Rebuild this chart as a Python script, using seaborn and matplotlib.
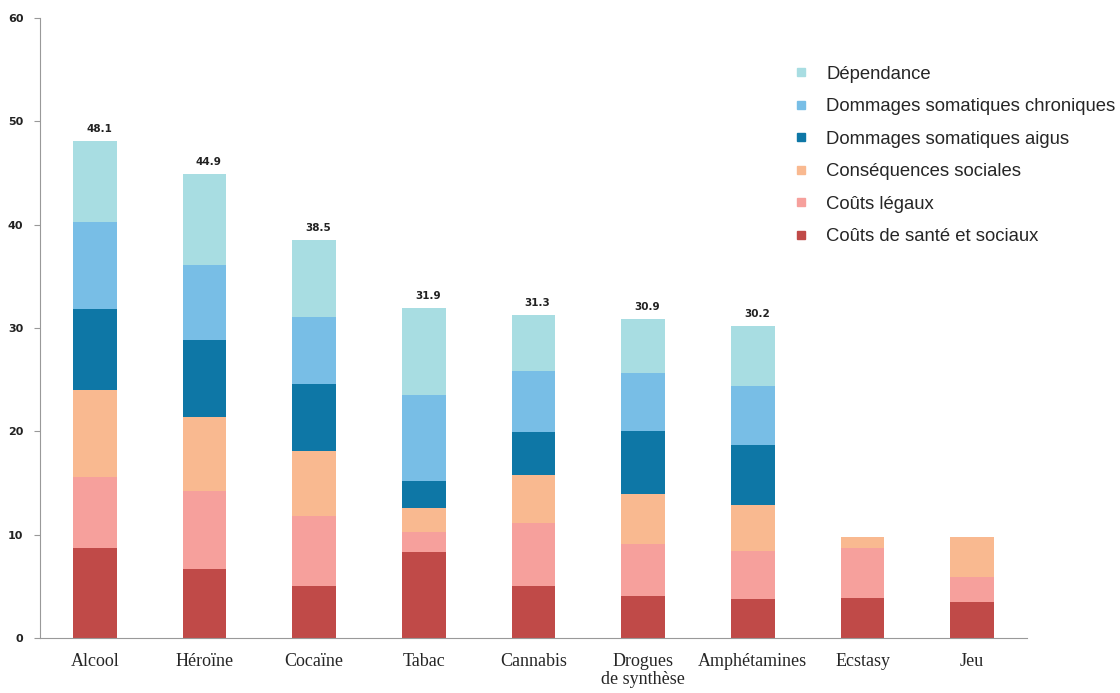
import matplotlib
matplotlib.use("Agg")
import matplotlib.pyplot as plt
import numpy as np
import pandas as pd
import seaborn as sns
from matplotlib.lines import Line2D

drugs = ["Alcool", "Héroïne", "Cocaïne", "Tabac", "Cannabis",
         "Drogues\nde synthèse", "Amphétamines", "Ecstasy", "Jeu"]

# stacked from bottom to top
couts_sante = [8.7, 6.7, 5.0, 8.3, 5.0, 4.1, 3.8, 3.85, 3.5]
couts_legaux = [6.9, 7.5, 6.8, 2.0, 6.1, 5.0, 4.6, 4.85, 2.4]
consequences = [8.4, 7.2, 6.3, 2.25, 4.7, 4.8, 4.5, 1.1, 3.9]
somatiques_aigus = [7.8, 7.4, 6.5, 2.65, 4.1, 6.1, 5.8, 0, 0]
somatiques_chron = [8.5, 7.3, 6.5, 8.3, 5.9, 5.6, 5.7, 0, 0]
dependance = [7.8, 8.8, 7.4, 8.4, 5.5, 5.3, 5.8, 0, 0]
totals = [48.1, 44.9, 38.5, 31.9, 31.3, 30.9, 30.2, None, None]

series = ["Coûts de santé et sociaux", "Coûts légaux", "Conséquences sociales",
          "Dommages somatiques aigus", "Dommages somatiques chroniques", "Dépendance"]
colors = ["#C04A48", "#F6A09C", "#F9B990", "#0E77A6", "#78BEE6", "#A8DDE2"]

df = pd.DataFrame({
    series[0]: couts_sante,
    series[1]: couts_legaux,
    series[2]: consequences,
    series[3]: somatiques_aigus,
    series[4]: somatiques_chron,
    series[5]: dependance,
}, index=drugs)
cum = df.cumsum(axis=1)

sns.set_style("white")
fig = plt.figure(figsize=(11.2, 6.93), dpi=100)
ax = fig.add_axes([0.0357, 0.0794, 0.8813, 0.8947])

# draw cumulative heights from the top layer down so each overlays the next
for name, color in reversed(list(zip(series, colors))):
    sns.barplot(x=drugs, y=cum[name].values, color=color, width=0.4,
                saturation=1, ax=ax, linewidth=0)

for i, t in enumerate(totals):
    if t is not None:
        ax.annotate(f"{t}", (i, t), xytext=(3, 5), textcoords="offset points",
                    ha="center", va="bottom", fontsize=7.5, fontweight="bold",
                    color="#222222")

ax.set_ylim(0, 60)
ax.set_xlim(-0.5, 8.5)
ax.set_yticks(range(0, 61, 10))
ax.tick_params(axis="y", labelsize=8, length=4, color="#999999", left=True,
               pad=8)
for lab in ax.get_yticklabels():
    lab.set_fontweight("bold")
    lab.set_color("#222222")
ax.set_xticks(range(len(drugs)))
ax.set_xticklabels(drugs, fontfamily="Liberation Serif", fontsize=13,
                   linespacing=1.05)
ax.tick_params(axis="x", length=0, pad=11)
ax.set_xticks(np.arange(-0.5, 8.6, 1), minor=True)
ax.tick_params(axis="x", which="minor", length=5, color="#999999")
for s in ["top", "right"]:
    ax.spines[s].set_visible(False)
for s in ["left", "bottom"]:
    ax.spines[s].set_color("#999999")
ax.set_xlabel("")
ax.set_ylabel("")

handles = [Line2D([], [], marker="s", linestyle="none", markersize=6,
                  markerfacecolor=c, markeredgecolor=c)
           for c in reversed(colors)]
fig.legend(handles, list(reversed(series)), loc="upper left",
           bbox_to_anchor=(0.6907, 0.929), frameon=False,
           prop={"family": "Liberation Sans", "size": 13.3},
           labelspacing=0.84, handletextpad=0.75, handlelength=1.2)

fig.savefig("out.png", dpi=100)
